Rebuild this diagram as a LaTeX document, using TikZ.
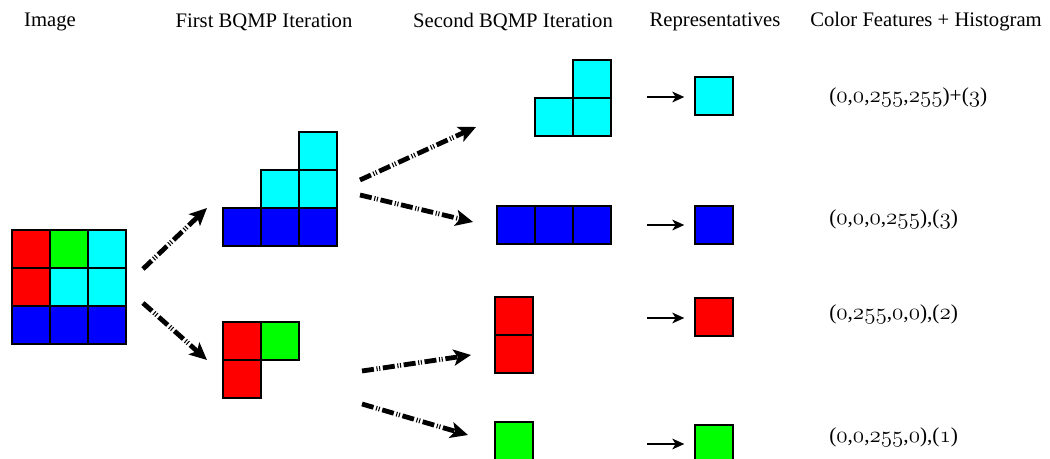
\documentclass[tikz,border=0pt]{standalone}
\usepackage{fontspec}
\setmainfont{Liberation Serif}
\usetikzlibrary{arrows.meta}
\newcommand\osn[1]{{\usefont{OML}{cmm}{m}{it}#1}}
\begin{document}
\begin{tikzpicture}[x=0.75pt,y=-0.75pt,
  cell/.style={draw=black, line width=1.1pt, minimum size=28.5pt, inner sep=0pt, outer sep=0pt},
  R/.style={cell, fill={rgb,255:red,255;green,0;blue,0}},
  G/.style={cell, fill={rgb,255:red,0;green,255;blue,0}},
  B/.style={cell, fill={rgb,255:red,0;green,0;blue,255}},
  C/.style={cell, fill={rgb,255:red,0;green,255;blue,255}},
  hdr/.style={font=\fontsize{15.5}{17}\selectfont, inner sep=0pt},
  feat/.style={font=\fontsize{16}{18}\selectfont, inner sep=0pt, anchor=west},
  dasharrow/.style={line width=3.6pt, dash pattern=on 9pt off 2pt on 0.8pt off 1.2pt on 0.8pt off 2pt,
    -{Stealth[length=13pt,width=12pt,inset=3pt]}},
  reparrow/.style={line width=1.5pt, -{Stealth[length=9pt,width=8pt,inset=2.5pt]}}]
\useasboundingbox (0,0) rectangle (1050,459);
\clip (0,0) rectangle (1050,459);

% headers
\node[hdr] (h1) at (50,22) {Image};
\node[hdr] (h2) at (264,22) {First BQMP Iteration};
\node[hdr] (h3) at (513,22) {Second BQMP Iteration};
\node[hdr] (h4) at (715,22) {Representatives};
\node[hdr] (h5) at (926,22) {Color Features + Histogram};

% image grid
\node[R] (i11) at (31,249) {};
\node[G] (i12) at (69,249) {};
\node[C] (i13) at (107,249) {};
\node[R] (i21) at (31,287) {};
\node[C] (i22) at (69,287) {};
\node[C] (i23) at (107,287) {};
\node[B] (i31) at (31,325) {};
\node[B] (i32) at (69,325) {};
\node[B] (i33) at (107,325) {};

% first iteration, top
\node[C] (fa1) at (318,151) {};
\node[C] (fa2) at (280,189) {};
\node[C] (fa3) at (318,189) {};
\node[B] (fa4) at (242,227) {};
\node[B] (fa5) at (280,227) {};
\node[B] (fa6) at (318,227) {};
% first iteration, bottom
\node[R] (fb1) at (242,341) {};
\node[G] (fb2) at (280,341) {};
\node[R] (fb3) at (242,379) {};

% second iteration
\node[C] (sa1) at (592,79) {};
\node[C] (sa2) at (554,117) {};
\node[C] (sa3) at (592,117) {};
\node[B] (sb1) at (516,225) {};
\node[B] (sb2) at (554,225) {};
\node[B] (sb3) at (592,225) {};
\node[R] (sc1) at (514,316) {};
\node[R] (sc2) at (514,354) {};
\node[G] (sd1) at (514,441) {};

% representatives
\node[C] (rc) at (714,96) {};
\node[B] (rb) at (714,225) {};
\node[R] (rr) at (714,317) {};
\node[G] (rg) at (714,444) {};

% features
\node[feat] (f1) at (829,97) {(\osn{0},\osn{0},\osn{255},\osn{255})+(\osn{3})};
\node[feat] (f2) at (829,219) {(\osn{0},\osn{0},\osn{0},\osn{255}),(\osn{3})};
\node[feat] (f3) at (829,314) {(\osn{0},\osn{255},\osn{0},\osn{0}),(\osn{2})};
\node[feat] (f4) at (829,437) {(\osn{0},\osn{0},\osn{255},\osn{0}),(\osn{1})};

% dashed arrow endpoints
\coordinate (a1s) at (143,269);
\coordinate (a1e) at (207,208);
\coordinate (a2s) at (143,303);
\coordinate (a2e) at (207,360);
\coordinate (a3s) at (360,180);
\coordinate (a3e) at (476,127);
\coordinate (a4s) at (360,195);
\coordinate (a4e) at (473,222);
\coordinate (a5s) at (362,371);
\coordinate (a5e) at (471,355);
\coordinate (a6s) at (362,404);
\coordinate (a6e) at (468,435);
\draw[dasharrow] (a1s) -- (a1e);
\draw[dasharrow] (a2s) -- (a2e);
\draw[dasharrow] (a3s) -- (a3e);
\draw[dasharrow] (a4s) -- (a4e);
\draw[dasharrow] (a5s) -- (a5e);
\draw[dasharrow] (a6s) -- (a6e);

% representative arrows
\coordinate (p1) at (647,97);
\coordinate (p2) at (647,225);
\coordinate (p3) at (647,318);
\coordinate (p4) at (647,444);
\draw[reparrow] (p1) -- ([xshift=-8pt]rc.west |- p1);
\draw[reparrow] (p2) -- ([xshift=-8pt]rb.west |- p2);
\draw[reparrow] (p3) -- ([xshift=-8pt]rr.west |- p3);
\draw[reparrow] (p4) -- ([xshift=-8pt]rg.west |- p4);
\end{tikzpicture}
\end{document}
